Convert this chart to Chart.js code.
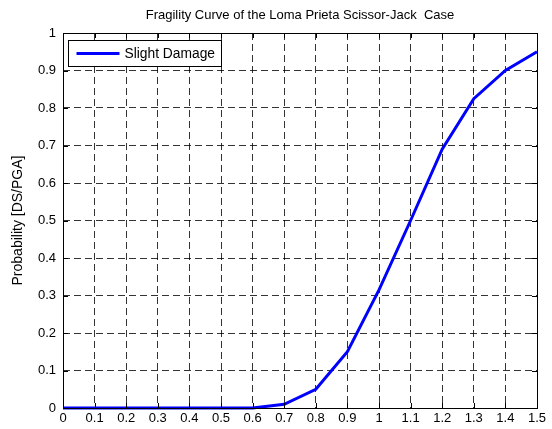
<!DOCTYPE html>
<html>
<head>
<meta charset="utf-8">
<script src="https://cdn.jsdelivr.net/npm/chart.js@4/dist/chart.umd.min.js"></script>
<style>
html,body{margin:0;padding:0;background:#fff;}
#wrap{width:552px;height:429px;}
</style>
</head>
<body>
<div id="wrap"><canvas id="c" width="552" height="429"></canvas></div>
<script>
const pgaValues = [0,0.1,0.2,0.3,0.4,0.5,0.6,0.7,0.8,0.9,1.0,1.1,1.2,1.3,1.4,1.5];
const slightDamage = [0,0,0,0,0,0,0,0.01,0.05,0.15,0.315,0.5,0.69,0.825,0.9,0.95];
const xTicks = [0,0.1,0.2,0.3,0.4,0.5,0.6,0.7,0.8,0.9,1,1.1,1.2,1.3,1.4,1.5];
const yTicks = [0,0.1,0.2,0.3,0.4,0.5,0.6,0.7,0.8,0.9,1];
const chartTitle = 'Fragility Curve of the Loma Prieta Scissor-Jack  Case';
const yTitle = 'Probability [DS/PGA]';
const seriesLabel = 'Slight Damage';

const FONT = '"Liberation Sans", Arial, Helvetica, sans-serif';

const decor = {
  id: 'decor',
  afterDraw(chart) {
    const ctx = chart.ctx;
    const a = chart.chartArea;
    const xs = chart.scales.x, ys = chart.scales.y;
    ctx.save();
    // inward ticks
    ctx.strokeStyle = '#000';
    ctx.lineWidth = 1;
    ctx.setLineDash([]);
    ctx.beginPath();
    xTicks.forEach(v => {
      const px = Math.round(xs.getPixelForValue(v)) + 0.5;
      ctx.moveTo(px, a.bottom); ctx.lineTo(px, a.bottom - 5);
      ctx.moveTo(px, a.top); ctx.lineTo(px, a.top + 5);
    });
    yTicks.forEach(v => {
      const py = Math.round(ys.getPixelForValue(v)) + 0.5;
      ctx.moveTo(a.left, py); ctx.lineTo(a.left + 5, py);
      ctx.moveTo(a.right, py); ctx.lineTo(a.right - 5, py);
    });
    ctx.stroke();
    // box
    ctx.strokeRect(Math.round(a.left) + 0.5, Math.round(a.top) + 0.5, Math.round(a.right - a.left), Math.round(a.bottom - a.top));
    // title
    ctx.fillStyle = '#000';
    ctx.font = '13px ' + FONT;
    ctx.textAlign = 'center';
    ctx.textBaseline = 'middle';
    ctx.fillText(chartTitle, 300, 15);
    // y title
    ctx.save();
    ctx.font = '14px ' + FONT;
    ctx.translate(18, (a.top + a.bottom) / 2);
    ctx.rotate(-Math.PI / 2);
    ctx.fillText(yTitle, 0, 0);
    ctx.restore();
    // legend
    const lx = Math.round(a.left) + 5.5, ly = Math.round(a.top) + 7.5;
    const lw = 153, lh = 26;
    ctx.fillStyle = '#fff';
    ctx.fillRect(lx, ly, lw, lh);
    ctx.strokeStyle = '#000';
    ctx.lineWidth = 1;
    ctx.strokeRect(lx, ly, lw, lh);
    const ds = chart.data.datasets[0];
    ctx.strokeStyle = ds.borderColor;
    ctx.lineWidth = 3;
    ctx.beginPath();
    ctx.moveTo(lx + 8, ly + lh / 2);
    ctx.lineTo(lx + 51, ly + lh / 2);
    ctx.stroke();
    ctx.fillStyle = '#000';
    ctx.textAlign = 'left';
    ctx.font = '13.8px ' + FONT;
    ctx.fillText(ds.label, lx + 56, ly + lh / 2 + 0.5);
    ctx.restore();
  }
};

new Chart(document.getElementById('c'), {
  type: 'line',
  data: {
    datasets: [{
      label: seriesLabel,
      data: pgaValues.map((x, i) => ({x: x, y: slightDamage[i]})),
      borderColor: '#0000ff',
      borderWidth: 3,
      pointRadius: 0,
      tension: 0,
      fill: false,
      clip: 4
    }]
  },
  options: {
    responsive: false,
    animation: false,
    devicePixelRatio: 1,
    layout: { padding: { top: 33, right: 15, left: 0, bottom: 0 } },
    plugins: { legend: { display: false }, title: { display: false }, tooltip: { enabled: false } },
    scales: {
      x: {
        type: 'linear', min: 0, max: 1.5,
        afterBuildTicks: s => { s.ticks = xTicks.map(v => ({value: v})); },
        afterFit: s => { s.height = 21; },
        grid: { color: 'rgba(0,0,0,0.8)', lineWidth: 1, drawTicks: false },
        border: { display: false, dash: [7,4] },
        ticks: { padding: 3, color: '#000', font: { family: FONT, size: 13 }, maxRotation: 0, autoSkip: false,
          callback: v => String(Number(v.toFixed(1))) }
      },
      y: {
        type: 'linear', min: 0, max: 1,
        afterBuildTicks: s => { s.ticks = yTicks.map(v => ({value: v})); },
        afterFit: s => { s.width = 63; },
        grid: { color: 'rgba(0,0,0,0.8)', lineWidth: 1, drawTicks: false },
        border: { display: false, dash: [7,4] },
        ticks: { padding: 7, color: '#000', font: { family: FONT, size: 13 }, autoSkip: false,
          callback: v => String(Number(v.toFixed(1))) }
      }
    }
  },
  plugins: [decor]
});
</script>
</body>
</html>
